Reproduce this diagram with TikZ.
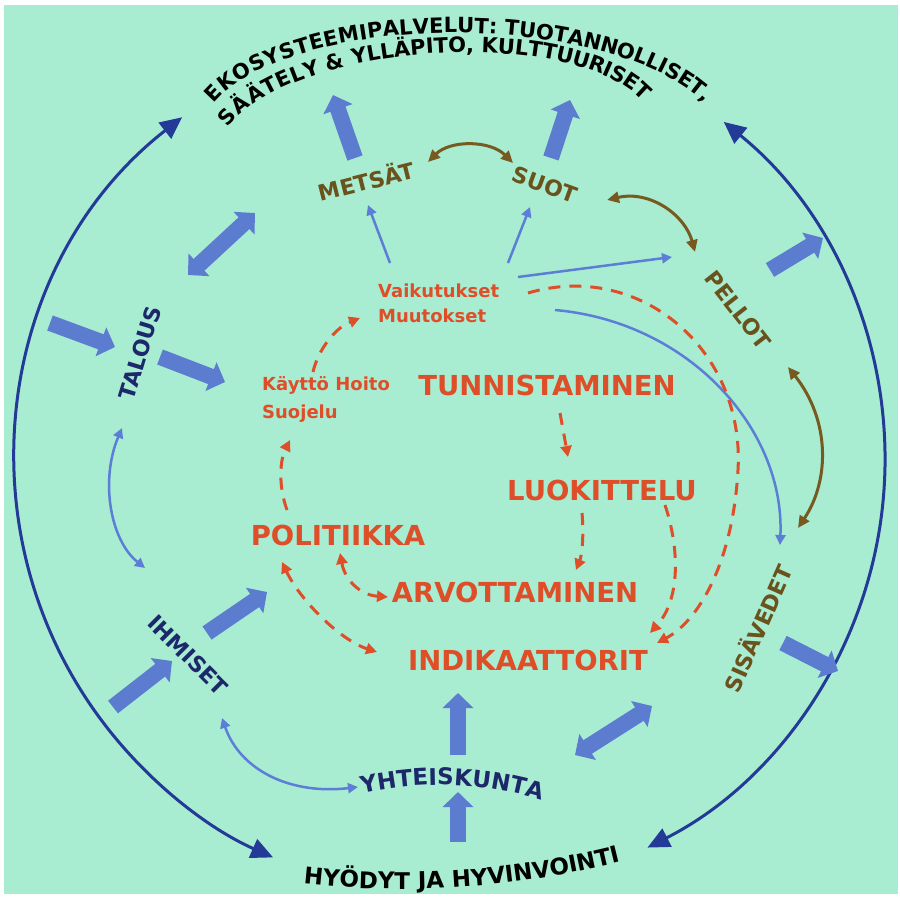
\documentclass[tikz,border=0pt]{standalone}
\usepackage{fontspec}
\setmainfont{DejaVu Sans}
\usetikzlibrary{arrows.meta}
\definecolor{bgmint}{RGB}{168,236,210}
\definecolor{blk}{RGB}{92,124,208}
\definecolor{thinblue}{RGB}{92,126,214}
\definecolor{navy}{RGB}{35,58,150}
\definecolor{navytext}{RGB}{28,40,105}
\definecolor{brn}{RGB}{118,90,32}
\definecolor{brntext}{RGB}{105,82,28}
\definecolor{rd}{RGB}{222,78,40}
\def\myRot{0}
% #1 name prefix, #2 cx, #3 cy, #4 rx, #5 ry, #6 start angle, #7 direction, #8 font size, #9 char/width list; \myRot = tilt of the ellipse
\newcommand\ellipsetext[9]{%
  \xdef\myCurTh{#6}%
  \foreach \myCh/\myW [count=\myK] in {#9}{%
    \pgfmathparse{100*sqrt(((#4)/100*sin(\myCurTh))^2+((#5)/100*cos(\myCurTh))^2)}%
    \let\mySpd\pgfmathresult
    \pgfmathparse{\myCurTh+(#7)*0.5*\myW*#8/\mySpd*57.29578}%
    \let\myMid\pgfmathresult
    \pgfmathparse{atan2((#7)*(#5)*cos(\myMid),-(#7)*(#4)*sin(\myMid))+\myRot}%
    \let\myAng\pgfmathresult
    \pgfmathparse{#2+(#4)*cos(\myMid)*cos(\myRot)-(#5)*sin(\myMid)*sin(\myRot)}\let\myPx\pgfmathresult
    \pgfmathparse{#3+(#4)*cos(\myMid)*sin(\myRot)+(#5)*sin(\myMid)*cos(\myRot)}\let\myPy\pgfmathresult
    \node[anchor=base,rotate=\myAng,inner sep=0pt,font=\bfseries\fontsize{#8}{#8}\selectfont] (#1\myK) at (\myPx,\myPy) {\myCh};%
    \pgfmathparse{\myCurTh+(#7)*\myW*#8/\mySpd*57.29578}%
    \xdef\myCurTh{\pgfmathresult}%
  }%
}
\begin{document}
\begin{tikzpicture}[x=1pt,y=1pt,
  blockarrow/.style={line width=16pt, draw=blk, -{Triangle[length=15pt,width=30pt]}},
  blockboth/.style={line width=16pt, draw=blk, {Triangle[length=15pt,width=30pt]}-{Triangle[length=15pt,width=30pt]}},
  outerarc/.style={line width=3pt, draw=navy, {Triangle[length=22pt,width=20pt]}-{Triangle[length=22pt,width=20pt]}},
  thinarrow/.style={line width=2.5pt, draw=thinblue, -{Triangle[length=10pt,width=10pt]}},
  thinboth/.style={line width=2.5pt, draw=thinblue, {Triangle[length=10pt,width=10pt]}-{Triangle[length=10pt,width=10pt]}},
  brnboth/.style={line width=3pt, draw=brn, {Triangle[length=12pt,width=11pt]}-{Triangle[length=12pt,width=11pt]}},
  redarrow/.style={line width=3pt, draw=rd, dash pattern=on 12pt off 9pt, -{Triangle[length=11pt,width=11pt]}},
  redboth/.style={line width=3pt, draw=rd, dash pattern=on 12pt off 9pt, {Triangle[length=11pt,width=11pt]}-{Triangle[length=11pt,width=11pt]}},
  redlabel/.style={text=rd, font=\bfseries\fontsize{27.5}{27.5}\selectfont, inner sep=0pt},
  smallred/.style={text=rd, font=\bfseries\fontsize{18}{18}\selectfont, inner sep=0pt, anchor=base west},
  brnlabel/.style={text=brntext, font=\bfseries\fontsize{22}{22}\selectfont, inner sep=0pt},
  navylabel/.style={text=navytext, font=\bfseries\fontsize{22}{22}\selectfont, inner sep=0pt}
]
\useasboundingbox (0,0) rectangle (900,-897);
\fill[white] (0,0) rectangle (900,-897);
\fill[bgmint] (4,-5) rectangle (898,-894);

% ---------- outer arcs ----------
\coordinate (C) at (450,-460);
\draw[outerarc] (C) ++(128:435) arc[start angle=128, end angle=246, radius=435];
\draw[outerarc] (C) ++(51:435) arc[start angle=51, end angle=-63, radius=435];

% ---------- curved texts ----------
\begin{scope}[text=black]
\gdef\myRot{-0.9}
\ellipsetext{ekoA}{462.5}{-141}{262}{108}{162.2}{-1}{21}{E/.683,K/.775,O/.850,S/.720,Y/.724,S/.720,T/.682,E/.683,E/.683,M/.995,I/.372,P/.733,A/.774,L/.637,V/.774,E/.683,L/.637,U/.812,T/.682,:/.400,~/.348,T/.682,U/.812,O/.850,T/.682,A/.774,N/.837,N/.837,O/.850,L/.637,L/.637,I/.372,S/.720,E/.683,T/.682,{,}/.380}
\gdef\myRot{3.9}
\ellipsetext{ekoB}{436.8}{-140.7}{218}{87.3}{162.2}{-1}{21}{S/.720,Ä/.774,Ä/.774,T/.682,E/.683,L/.637,Y/.724,~/.348,\&/.872,~/.348,Y/.724,L/.637,L/.637,Ä/.774,P/.733,I/.372,T/.682,O/.850,{,}/.380,~/.348,K/.775,U/.812,L/.637,T/.682,T/.682,U/.812,U/.812,R/.770,I/.372,S/.720,E/.683,T/.682}
\gdef\myRot{0}
\ellipsetext{hyod}{400}{20}{909}{909}{263.9}{1}{23}{H/.837,Y/.724,Ö/.850,D/.830,Y/.724,T/.682,~/.348,J/.372,A/.774,~/.348,H/.837,Y/.724,V/.774,I/.372,N/.837,V/.774,O/.850,I/.372,N/.837,T/.682,I/.372}
\end{scope}
\begin{scope}[text=navytext]
\ellipsetext{yht}{440}{-1133}{348}{348}{102.95}{-1}{23}{Y/.724,H/.837,T/.682,E/.683,I/.372,S/.720,K/.775,U/.812,N/.837,T/.682,A/.774}
\end{scope}

% ---------- labels ----------
\node[brnlabel, rotate=14] (metsat) at (366,-180) {METSÄT};
\node[brnlabel, rotate=-20] (suot) at (545,-185) {SUOT};
\node[brnlabel, rotate=-52] (pellot) at (738,-310) {PELLOT};
\node[brnlabel, rotate=66] (sisavedet) at (757,-628) {SISÄVEDET};
\node[navylabel, rotate=73] (talous) at (140,-353) {TALOUS};
\node[navylabel, rotate=-45] (ihmiset) at (188,-655) {IHMISET};

\node[redlabel] (tunn) at (547,-385) {TUNNISTAMINEN};
\node[redlabel] (luok) at (602,-490) {LUOKITTELU};
\node[redlabel] (pol) at (338,-535) {POLITIIKKA};
\node[redlabel] (arv) at (515,-592) {ARVOTTAMINEN};
\node[redlabel] (ind) at (528,-660) {INDIKAATTORIT};
\node[smallred] (vaik) at (378,-297) {Vaikutukset};
\node[smallred] (muut) at (378,-322) {Muutokset};
\node[smallred] (kaytto) at (262,-390) {Käyttö Hoito};
\node[smallred] (suoj) at (262,-418) {Suojelu};

% ---------- block arrows ----------
\coordinate (b1s) at (355,-158); \coordinate (b1e) at (333,-95);
\coordinate (b2s) at (551,-158); \coordinate (b2e) at (570,-100);
\coordinate (b3s) at (188,-275); \coordinate (b3e) at (255,-213);
\coordinate (b4s) at (50,-323);  \coordinate (b4e) at (115,-347);
\coordinate (b5s) at (160,-357); \coordinate (b5e) at (225,-382);
\coordinate (b6s) at (770,-270); \coordinate (b6e) at (823,-238);
\coordinate (b7s) at (113,-707); \coordinate (b7e) at (172,-661);
\coordinate (b8s) at (207,-633); \coordinate (b8e) at (267,-592);
\coordinate (b9s) at (783,-643); \coordinate (b9e) at (838,-671);
\coordinate (b10s) at (575,-755); \coordinate (b10e) at (652,-706);
\coordinate (b11s) at (458,-755); \coordinate (b11e) at (458,-693);
\coordinate (b12s) at (458,-842); \coordinate (b12e) at (458,-792);
\draw[blockarrow] (b1s) -- (b1e);
\draw[blockarrow] (b2s) -- (b2e);
\draw[blockboth] (b3s) -- (b3e);
\draw[blockarrow] (b4s) -- (b4e);
\draw[blockarrow] (b5s) -- (b5e);
\draw[blockarrow] (b6s) -- (b6e);
\draw[blockarrow] (b7s) -- (b7e);
\draw[blockarrow] (b8s) -- (b8e);
\draw[blockarrow] (b9s) -- (b9e);
\draw[blockboth] (b10s) -- (b10e);
\draw[blockarrow] (b11s) -- (b11e);
\draw[blockarrow] (b12s) -- (b12e);

% ---------- thin blue arrows ----------
\coordinate (t1s) at (390,-263); \coordinate (t1e) at (368,-205);
\coordinate (t2s) at (508,-263); \coordinate (t2e) at (530,-207);
\coordinate (t3s) at (518,-277); \coordinate (t3e) at (672,-257);
\coordinate (t4s) at (555,-310); \coordinate (t4e) at (780,-545);
\coordinate (t5s) at (122,-428); \coordinate (t5e) at (145,-568);
\coordinate (t6s) at (222,-718); \coordinate (t6e) at (358,-787);
\draw[thinarrow] (t1s) -- (t1e);
\draw[thinarrow] (t2s) -- (t2e);
\draw[thinarrow] (t3s) -- (t3e);
\draw[thinarrow] (t4s) .. controls (690,-322) and (785,-430) .. (t4e);
\draw[thinboth] (t5s) .. controls (100,-480) and (110,-540) .. (t5e);
\draw[thinboth] (t6s) .. controls (240,-770) and (290,-795) .. (t6e);

% ---------- brown arrows ----------
\coordinate (r1s) at (428,-162); \coordinate (r1e) at (513,-163);
\coordinate (r2s) at (607,-200); \coordinate (r2e) at (695,-252);
\coordinate (r3s) at (788,-367); \coordinate (r3e) at (798,-528);
\draw[brnboth] (r1s) .. controls (450,-140) and (490,-140) .. (r1e);
\draw[brnboth] (r2s) .. controls (650,-190) and (685,-215) .. (r2e);
\draw[brnboth] (r3s) .. controls (830,-420) and (830,-480) .. (r3e);

% ---------- red dashed arrows ----------
\coordinate (d1s) at (313,-372); \coordinate (d1e) at (360,-318);
\coordinate (d2s) at (287,-510); \coordinate (d2e) at (290,-440);
\coordinate (d3s) at (560,-413); \coordinate (d3e) at (568,-457);
\coordinate (d4s) at (582,-513); \coordinate (d4e) at (576,-570);
\coordinate (d5s) at (665,-505); \coordinate (d5e) at (650,-633);
\coordinate (d6s) at (528,-293); \coordinate (d6m) at (738,-470); \coordinate (d6e) at (657,-643);
\coordinate (d7s) at (340,-553); \coordinate (d7e) at (388,-597);
\coordinate (d8s) at (282,-562); \coordinate (d8e) at (377,-652);
\draw[redarrow] (d1s) .. controls (318,-350) and (335,-328) .. (d1e);
\draw[redarrow] (d2s) .. controls (278,-485) and (280,-460) .. (d2e);
\draw[redarrow] (d3s) -- (d3e);
\draw[redarrow] (d4s) .. controls (584,-535) and (582,-555) .. (d4e);
\draw[redarrow] (d5s) .. controls (680,-550) and (680,-600) .. (d5e);
\draw[redarrow] (d6s) .. controls (640,-260) and (745,-350) .. (d6m) .. controls (733,-560) and (700,-620) .. (d6e);
\draw[redboth] (d7s) .. controls (345,-580) and (360,-595) .. (d7e);
\draw[redboth] (d8s) .. controls (300,-600) and (340,-640) .. (d8e);
\end{tikzpicture}
\end{document}
